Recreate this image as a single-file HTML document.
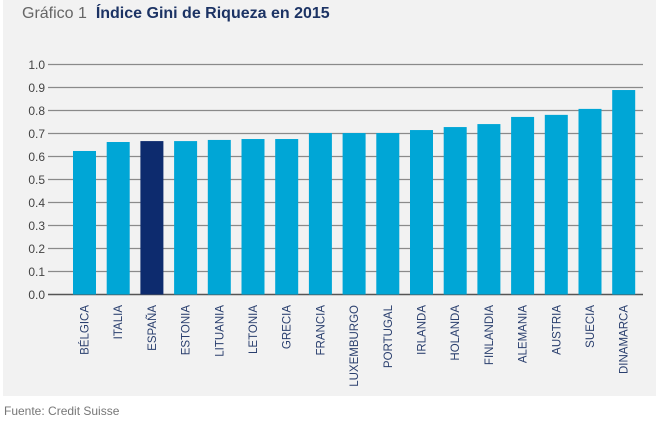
<!DOCTYPE html>
<html><head><meta charset="utf-8"><style>
html,body{margin:0;padding:0;background:#fff;width:656px;height:432px;overflow:hidden;font-family:"Liberation Sans",sans-serif}
#panel{position:absolute;left:3px;top:0;width:653px;height:396px;background:#f2f2f2}
#title{position:absolute;left:22px;top:5px;font-size:16px;color:#666}
#title b{color:#1c3364}
#src{position:absolute;left:4px;top:404px;font-size:12px;color:#777}
svg{position:absolute;left:0;top:0}
</style></head><body>
<div id="panel"></div>
<div id="title">Gráfico 1&nbsp; <b>Índice Gini de Riqueza en 2015</b></div>
<div id="src">Fuente: Credit Suisse</div>
<svg id="chart" width="656" height="432"></svg>
<script>
const categories=["BÉLGICA","ITALIA","ESPAÑA","ESTONIA","LITUANIA","LETONIA","GRECIA","FRANCIA","LUXEMBURGO","PORTUGAL","IRLANDA","HOLANDA","FINLANDIA","ALEMANIA","AUSTRIA","SUECIA","DINAMARCA"];
const values=[0.624,0.663,0.667,0.667,0.672,0.676,0.676,0.702,0.702,0.702,0.715,0.728,0.741,0.772,0.781,0.807,0.889];
const highlight=["ESPAÑA"];
const ticks=[0,0.1,0.2,0.3,0.4,0.5,0.6,0.7,0.8,0.9,1.0];
const NS="http://www.w3.org/2000/svg";
const svg=document.getElementById('chart');
const y0=294.5,y1=64.5,xL=48,xR=643,x0=84.5,step=33.7,bw=23;
const y=v=>y0-(v/1.0)*(y0-y1);
const x=i=>x0+i*step;
function mk(t,a){const e=document.createElementNS(NS,t);for(const k in a)e.setAttribute(k,a[k]);svg.appendChild(e);return e;}
ticks.forEach(t=>{
  const l=mk('line',{x1:xL,x2:xR,y1:y(t),y2:y(t),stroke:t===0?'#555':'#8a8a8a','stroke-width':t===0?1.5:1.2});
  
  
  const tx=mk('text',{x:45,y:y(t)+4.5,'text-anchor':'end','font-size':12,fill:'#444'});
  tx.textContent=t.toFixed(1);
  
  
});
categories.forEach((c,i)=>{
  const r=mk('rect',{x:x(i)-bw/2,y:y(values[i]),width:bw,height:y0-y(values[i]),fill:highlight.includes(c)?'#0d2b6e':'#00a6d6'});
  
  
  const tx=mk('text',{x:0,y:0,'text-anchor':'end','font-size':11.5,fill:'#2a3f6e',transform:`translate(${x(i)+4},305) rotate(-90)`});
  tx.textContent=c;
  
  
});
</script>
</body></html>
